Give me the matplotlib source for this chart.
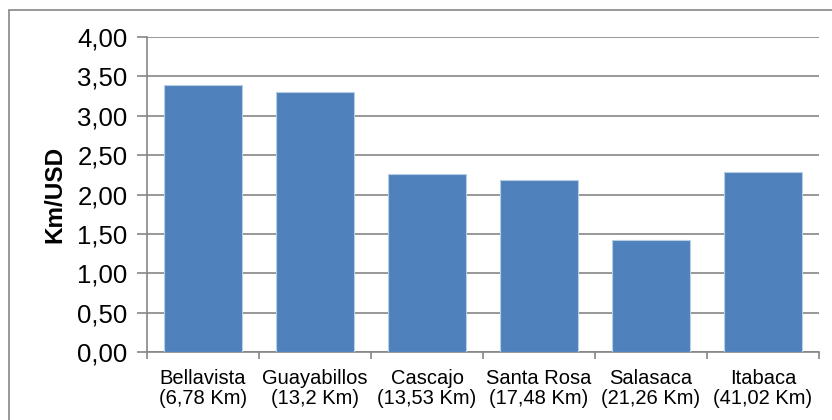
import matplotlib.pyplot as plt
from matplotlib.patches import Rectangle

lugares = ['Bellavista\n(6,78 Km)', 'Guayabillos\n(13,2 Km)', 'Cascajo\n(13,53 Km)',
           'Santa Rosa\n(17,48 Km)', 'Salasaca\n(21,26 Km)', 'Itabaca\n(41,02 Km)']
km_usd = [3.39, 3.30, 2.26, 2.19, 1.42, 2.28]
yticks = [0, 0.5, 1.0, 1.5, 2.0, 2.5, 3.0, 3.5, 4.0]

plt.rcParams['font.family'] = ['Liberation Sans', 'DejaVu Sans']

fig = plt.figure(figsize=(8.32, 4.2), dpi=100)
ax = fig.add_axes([147/832, 1 - 352/420, (819-147)/832, (352-37)/420])

x = list(range(len(km_usd)))
ax.bar(x, km_usd, width=0.69, color='#4F81BD', edgecolor='#B9CDE5', linewidth=0.8, zorder=3)

ax.set_xlim(-0.5, len(km_usd) - 0.5)
ax.set_ylim(0, 4)
ax.set_yticks(yticks)
ax.set_yticklabels([('%.2f' % v).replace('.', ',') for v in yticks], fontsize=18.5)
ax.yaxis.grid(True, color='#868686', linewidth=1.2, zorder=0)

# ticks on category boundaries, labels centered
ax.set_xticks([i - 0.5 for i in range(len(km_usd) + 1)])
ax.set_xticklabels([])
ax.set_xticks(x, minor=True)
ax.set_xticklabels(lugares, minor=True, fontsize=14.5, linespacing=1.12)
ax.tick_params(axis='x', which='minor', length=0, pad=12)
ax.tick_params(axis='x', which='major', length=5, color='#868686', width=1.2)
ax.tick_params(axis='y', length=7, color='#868686', width=1.2, pad=7)

for s in ['top', 'right']:
    ax.spines[s].set_visible(False)
for s in ['left', 'bottom']:
    ax.spines[s].set_color('#868686')
    ax.spines[s].set_linewidth(1.2)

ax.set_ylabel('Km/USD', fontsize=17.5, fontweight='bold', labelpad=8)

# marco del grafico
fig.patches.append(Rectangle((9/832, -0.1), 1.1, 1 - 10/420 + 0.1, transform=fig.transFigure,
                             fill=False, edgecolor='#868686', linewidth=1.2))

fig.savefig('out.png', dpi=100)
